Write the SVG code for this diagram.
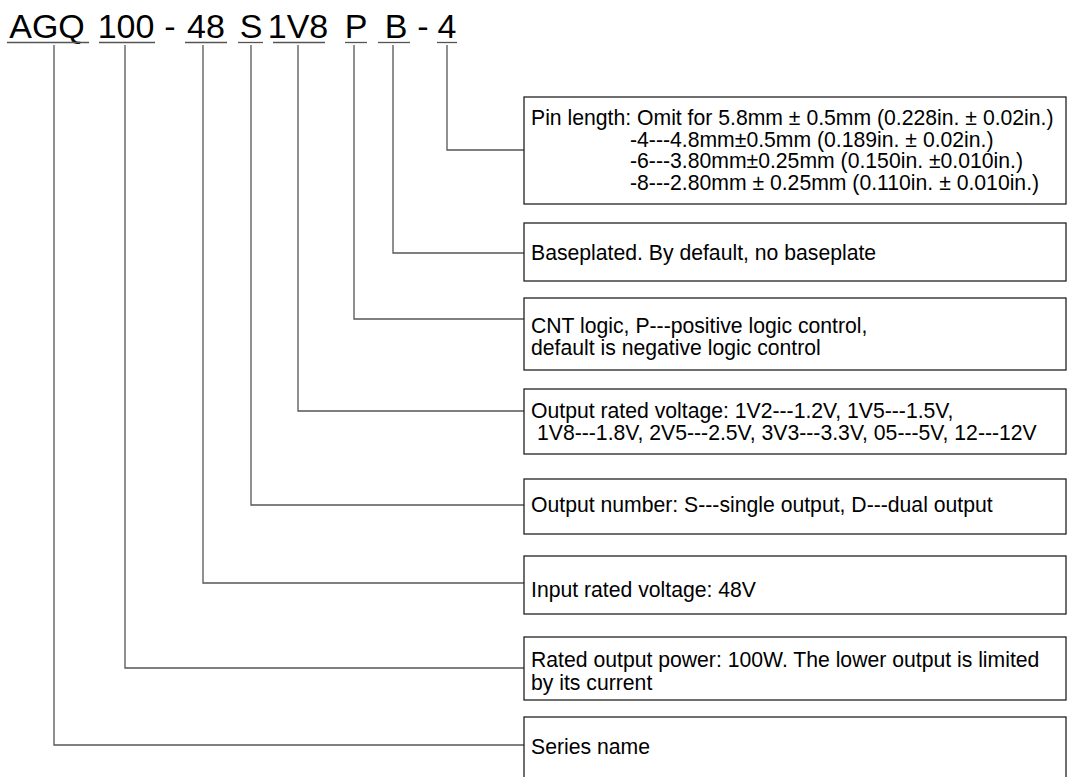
<svg xmlns="http://www.w3.org/2000/svg" width="1068" height="777" viewBox="0 0 1068 777">
<style>
text{font-family:"Liberation Sans",Arial,sans-serif;fill:#000}
.t{font-size:34px;text-anchor:middle}
.b{font-size:21.2px}
.box{fill:#fff;stroke:#222;stroke-width:1.3}
.c{fill:none;stroke:#555;stroke-width:1.3}
.u{stroke:#555;stroke-width:1.3}
</style>
<rect width="1068" height="777" fill="#fff"/>
<g id="title">
<text class="t" x="47" y="38">AGQ</text>
<text class="t" x="126" y="38">100</text>
<text class="t" x="170" y="38">-</text>
<text class="t" x="206" y="38">48</text>
<text class="t" x="251" y="38">S</text>
<text class="t" x="298" y="38">1V8</text>
<text class="t" x="356" y="38">P</text>
<text class="t" x="396" y="38">B</text>
<text class="t" x="423" y="38">-</text>
<text class="t" x="447" y="38">4</text>
<line class="u" x1="7" y1="42.5" x2="89" y2="42.5"/>
<line class="u" x1="99" y1="42.5" x2="155" y2="42.5"/>
<line class="u" x1="185" y1="42.5" x2="227" y2="42.5"/>
<line class="u" x1="238" y1="42.5" x2="263" y2="42.5"/>
<line class="u" x1="273" y1="42.5" x2="325" y2="42.5"/>
<line class="u" x1="345" y1="42.5" x2="367" y2="42.5"/>
<line class="u" x1="378" y1="42.5" x2="410" y2="42.5"/>
<line class="u" x1="437" y1="42.5" x2="457" y2="42.5"/>
</g>
<g id="connectors">
<polyline class="c" points="447,45 447,150 524,150"/>
<polyline class="c" points="393,45 393,253 524,253"/>
<polyline class="c" points="354,45 354,319 524,319"/>
<polyline class="c" points="298,45 298,411 524,411"/>
<polyline class="c" points="251,45 251,505 524,505"/>
<polyline class="c" points="203,45 203,583 524,583"/>
<polyline class="c" points="125,45 125,668 524,668"/>
<polyline class="c" points="54,45 54,745 524,745"/>
</g>
<g id="pin">
<rect class="box" x="524" y="97" width="542" height="107"/>
<text class="b" x="531" y="125">Pin length: Omit for 5.8mm ± 0.5mm (0.228in. ± 0.02in.)</text>
<text class="b" x="630" y="147">-4---4.8mm±0.5mm (0.189in. ± 0.02in.)</text>
<text class="b" x="630" y="168">-6---3.80mm±0.25mm (0.150in.  ±0.010in.)</text>
<text class="b" x="630" y="190">-8---2.80mm ± 0.25mm (0.110in. ± 0.010in.)</text>
</g>
<g id="baseplate">
<rect class="box" x="524" y="223" width="542" height="58"/>
<text class="b" x="531" y="260">Baseplated. By default, no baseplate</text>
</g>
<g id="cnt">
<rect class="box" x="524" y="298" width="542" height="72"/>
<text class="b" x="531" y="333">CNT logic, P---positive logic control,</text>
<text class="b" x="531" y="355">default is negative logic control</text>
</g>
<g id="vout">
<rect class="box" x="524" y="389" width="542" height="65"/>
<text class="b" x="531" y="418">Output rated voltage: 1V2---1.2V, 1V5---1.5V,</text>
<text class="b" x="537" y="440">1V8---1.8V, 2V5---2.5V, 3V3---3.3V, 05---5V, 12---12V</text>
</g>
<g id="outnum">
<rect class="box" x="524" y="479" width="542" height="55"/>
<text class="b" x="531" y="512">Output number: S---single output, D---dual output</text>
</g>
<g id="vin">
<rect class="box" x="524" y="556" width="542" height="58"/>
<text class="b" x="531" y="597">Input rated voltage: 48V</text>
</g>
<g id="power">
<rect class="box" x="524" y="637" width="542" height="63"/>
<text class="b" x="531" y="667">Rated output power: 100W. The lower output is limited</text>
<text class="b" x="531" y="690">by its current</text>
</g>
<g id="series">
<rect class="box" x="524" y="717" width="542" height="70"/>
<text class="b" x="531" y="754">Series name</text>
</g>
</svg>
